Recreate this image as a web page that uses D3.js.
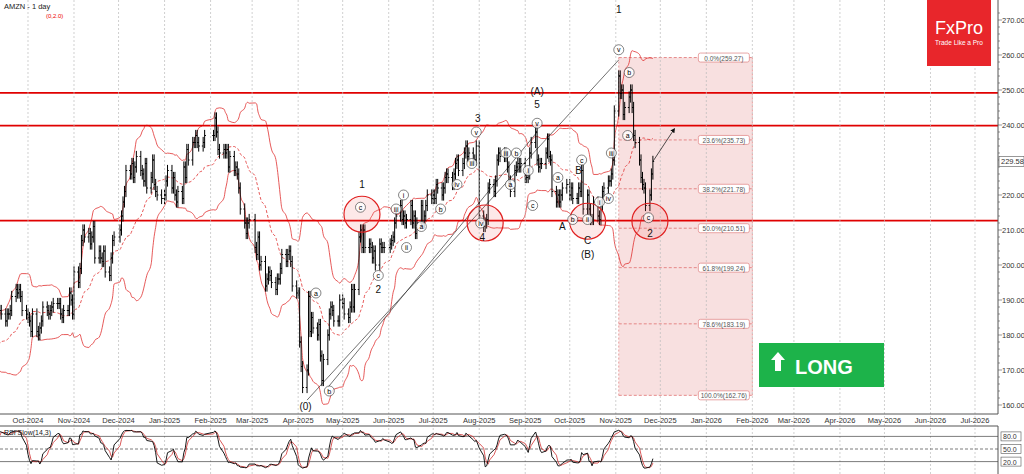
<!DOCTYPE html><html><head><meta charset="utf-8"><script src="https://cdn.jsdelivr.net/npm/d3@7"></script>
<style>body{margin:0;background:#fff}text{font-family:Arial,"Liberation Sans",sans-serif}</style></head><body><svg id="c" width="1024" height="474"></svg><script>
const months=["2024-08-15","2024-09-02","2024-09-12","2024-10-01","2024-11-01","2024-12-01","2025-01-01","2025-02-01","2025-03-01","2025-04-01","2025-05-01","2025-06-01","2025-07-01","2025-08-01","2025-09-01","2025-10-01","2025-11-01"];
const closes=[
[177,177,178,180,178,177,176,176,175,176,178,175],
[176,178,176,170,172,179,183,186],
[187,186,184,186,186,187,191,193,192,193,191,187,186],
[185,184,181,186,181,180,182,184,188,187,186,187,188,189,189,189,186,185,187,187,192,190,186],
[198,195,199,207,210,208,209,206,208,211,202,204,202,201,204,198,197,202,207,208],
[210,214,218,221,227,226,229,225,228,231,227,226,224,229,222,225,230,223,221,220,219],
[220,224,227,222,225,220,218,221,219,228,225,233,230,235,235,237,235,234,235,237],
[237,242,238,233,232,233,232,233,228,231,227,228,226,222,216,212,209,212,213],
[205,203,208,200,201,194,196,198,197,195,193,196,196,199,203,201,203,204,201,194,192],
[192,178,171,165,170,191,181,185,182,180,183,174,167,173,180,186,188,187,184,184,190],
[189,186,185,188,193,188,193,208,210,205,210,205,206,205,202,204,200,206,205,205,205],
[206,207,208,212,214,217,213,214,212,213,217,212,214,209,212,217,212,214,217,220,219],
[220,219,223,222,220,222,225,226,225,223,226,229,230,227,229,232,234,231,232,230,230,234],
[214,211,212,213,222,223,221,224,230,232,231,232,231,228,224,221,227,228,229,228,229],
[225,225,226,232,235,238,230,228,229,229,232,236,231,230,221,218,220,218,220,222,223],
[220,222,219,219,222,221,227,216,220,216,213,213,218,214,213,217,221,222,224,224,226,230,244],
[254,249,250,243,245,248,250,245,237,235,230,225,223,222,217,220,226,229.6]];
const priceTicks=[160,170,180,190,200,210,220,230,240,250,260,270];
const hLevels=[249.2,239.8,212.7];
const fibLabels=["0.0%","23.6%","38.2%","50.0%","61.8%","78.6%","100.0%"];
const fibValues=[259.27,235.73,221.78,210.51,199.24,183.19,162.76];
const monthLabels=["Oct-2024","Nov-2024","Dec-2024","Jan-2025","Feb-2025","Mar-2025","Apr-2025","May-2025","Jun-2025","Jul-2025","Aug-2025","Sep-2025","Oct-2025","Nov-2025","Dec-2025","Jan-2026","Feb-2026","Mar-2026","Apr-2026","May-2026","Jun-2026","Jul-2026"];
const bars=[];
months.forEach((m,i)=>{let d=new Date(m+"T00:00:00");const arr=closes[i];let k=0;
 while(k<arr.length){const wd=d.getDay();if(wd!==0&&wd!==6){bars.push({date:new Date(d),c:arr[k]});k++;}d.setDate(d.getDate()+1);}});
bars.forEach((b,i)=>{b.o=i?bars[i-1].c:b.c;b.h=Math.max(b.o,b.c)+1.6;b.l=Math.min(b.o,b.c)-1.6;});
const svg=d3.select("#c");
const x=d3.scaleTime().domain([new Date("2024-10-01"),new Date("2026-07-01")]).range([28,975]);
const y=d3.scaleLinear().domain([160,270]).range([405,20]);
const L=0,R=998,T=0,B=414;
const defs=svg.append("defs");
defs.append("clipPath").attr("id","cp").append("rect").attr("x",L).attr("y",T).attr("width",R-L).attr("height",B-T);
const g=svg.append("g").attr("clip-path","url(#cp)");
monthLabels.forEach(m=>{const d=d3.timeParse("%b-%Y")(m);const xx=x(d);
 svg.append("line").attr("x1",xx).attr("x2",xx).attr("y1",0).attr("y2",474).attr("stroke","#bbb").attr("stroke-dasharray","2,2").attr("stroke-width",0.7);
 svg.append("text").attr("x",xx).attr("y",423).attr("text-anchor","middle").attr("font-size",7.5).attr("fill","#333").text(m);});
const fx0=x(new Date("2025-11-03")),fx1=x(new Date("2026-02-01"));
g.append("rect").attr("x",fx0).attr("y",y(fibValues[0])).attr("width",fx1-fx0).attr("height",y(fibValues[6])-y(fibValues[0])).attr("fill","#f4d0d0").attr("opacity",0.65);
[fx0,fx1].forEach(v=>g.append("line").attr("x1",v).attr("x2",v).attr("y1",y(fibValues[0])).attr("y2",y(fibValues[6])).attr("stroke","#e8a0a0").attr("stroke-dasharray","2,2"));
fibValues.forEach((v,i)=>{g.append("line").attr("x1",fx0).attr("x2",fx1).attr("y1",y(v)).attr("y2",y(v)).attr("stroke","#e07070").attr("stroke-dasharray","3,2").attr("stroke-width",0.8);
 const t=fibLabels[i]+"("+v.toFixed(2)+")";const tx=fx1-4;
 g.append("rect").attr("x",tx-50).attr("y",y(v)-4.5).attr("width",51).attr("height",9).attr("rx",2).attr("fill","#fff").attr("stroke","#e08080").attr("stroke-width",0.7);
 g.append("text").attr("x",tx-24.5).attr("y",y(v)+3).attr("text-anchor","middle").attr("font-size",6.5).attr("fill","#555").text(t);});
const n=20,bb=[];
bars.forEach((b,i)=>{if(i<n-1)return;const s=bars.slice(i-n+1,i+1).map(d=>d.c);const m=d3.mean(s),sd=d3.deviation(s)*Math.sqrt((n-1)/n);bb.push({date:b.date,m,u:m+2*sd,l:m-2*sd});});
["u","l","m"].forEach(k=>g.append("path").datum(bb).attr("d",d3.line().x(d=>x(d.date)).y(d=>y(d[k])).curve(d3.curveMonotoneX)).attr("fill","none").attr("stroke","#e03030").attr("stroke-width",0.8).attr("stroke-dasharray",k==="m"?"3,2":null));
hLevels.forEach(v=>g.append("line").attr("x1",L).attr("x2",R).attr("y1",y(v)).attr("y2",y(v)).attr("stroke","#e00000").attr("stroke-width",1.8));
const tl=[[["2025-04-07",161.4],["2025-11-03",258.6]],[["2025-04-21",165],["2025-09-09",238]]];
tl.forEach(p=>g.append("line").attr("x1",x(new Date(p[0][0]))).attr("y1",y(p[0][1])).attr("x2",x(new Date(p[1][0]))).attr("y2",y(p[1][1])).attr("stroke","#333").attr("stroke-width",0.7));
const vis=bars.filter(b=>b.date>=new Date("2024-09-12"));
vis.forEach(b=>{const xx=x(b.date);
 g.append("line").attr("x1",xx).attr("x2",xx).attr("y1",y(b.h)).attr("y2",y(b.l)).attr("stroke","#000").attr("stroke-width",1);
 g.append("line").attr("x1",xx-1.3).attr("x2",xx).attr("y1",y(b.o)).attr("y2",y(b.o)).attr("stroke","#000");
 g.append("line").attr("x1",xx).attr("x2",xx+1.3).attr("y1",y(b.c)).attr("y2",y(b.c)).attr("stroke","#000");});
const circles=[["2025-05-14",214.5],["2025-08-05",212],["2025-10-13",212.5],["2025-11-24",212.5]];
circles.forEach(c=>g.append("circle").attr("cx",x(new Date(c[0]))).attr("cy",y(c[1])).attr("r",18).attr("fill","rgba(240,100,100,0.15)").attr("stroke","#e02020").attr("stroke-width",1.2));
const waves=[["1","2025-05-14",222],["2","2025-05-25",192],["3","2025-07-31",241],["4","2025-08-03",207],["5","2025-09-09",245],["(A)","2025-09-09",248.5],["B","2025-10-07",226],["A","2025-09-26",210],["C","2025-10-13",206],["(B)","2025-10-13",202],["1","2025-11-03",272],["2","2025-11-24",208],["(0)","2025-04-06",158.5]];
waves.forEach(w=>svg.append("text").attr("x",x(new Date(w[1]))).attr("y",y(w[2])).attr("text-anchor","middle").attr("font-size",10).attr("fill","#111").text(w[0]));
const sm=[["c","2025-05-13",216.5],["c","2025-05-25",197],["a","2025-04-13",192],["b","2025-04-22",164],["v","2025-11-03",261.5],["b","2025-11-10",255],["a","2025-11-09",237],["iii","2025-10-29",232],["iv","2025-10-27",219],["c","2025-11-23",213.5],["v","2025-07-30",238],["iv","2025-08-02",212],["v","2025-09-09",240.5],["b","2025-08-26",232],["a","2025-09-23",225],["c","2025-09-06",217],["iii","2025-08-19",232],["ii","2025-06-13",205],["iii","2025-06-06",216],["i","2025-06-11",220],["b","2025-07-06",216],["a","2025-06-23",211],["iii","2025-07-27",229],["iv","2025-07-17",223],["a","2025-08-22",223],["i","2025-09-03",227],["b","2025-10-03",213],["ii","2025-10-13",213],["i","2025-10-21",218],["c","2025-10-09",230]];
sm.forEach(s=>{const xx=x(new Date(s[1])),yy=y(s[2]);svg.append("circle").attr("cx",xx).attr("cy",yy).attr("r",5).attr("fill","#fff").attr("fill-opacity",0.8).attr("stroke","#333").attr("stroke-width",0.6);
 svg.append("text").attr("x",xx).attr("y",yy+2.5).attr("text-anchor","middle").attr("font-size",7).attr("font-family","serif").text(s[0]);});
defs.append("marker").attr("id","ar").attr("viewBox","0 0 10 10").attr("refX",5).attr("refY",5).attr("markerWidth",6).attr("markerHeight",6).attr("orient","auto").append("path").attr("d","M0,0L10,5L0,10z").attr("fill","#111");
svg.append("line").attr("x1",x(new Date("2025-11-26"))).attr("y1",y(229.6)).attr("x2",x(new Date("2025-12-10"))).attr("y2",y(238.6)).attr("stroke","#222").attr("stroke-width",0.8).attr("marker-end","url(#ar)");
svg.append("line").attr("x1",R).attr("x2",R).attr("y1",0).attr("y2",B).attr("stroke","#555");
svg.append("line").attr("x1",0).attr("x2",R).attr("y1",B).attr("y2",B).attr("stroke","#555");
for(let v=160;v<=272;v+=2)svg.append("line").attr("x1",R).attr("x2",R+(v%10?2:4)).attr("y1",y(v)).attr("y2",y(v)).attr("stroke","#555").attr("stroke-width",0.6);
priceTicks.forEach(v=>svg.append("text").attr("x",R+4).attr("y",y(v)+3).attr("font-size",7.5).attr("fill","#333").text(v.toFixed(2)));
svg.append("rect").attr("x",R+1).attr("y",y(229.58)-5).attr("width",25).attr("height",10).attr("fill","#fff").attr("stroke","#555").attr("stroke-width",0.6);
svg.append("text").attr("x",R+3).attr("y",y(229.58)+3).attr("font-size",7.5).attr("fill","#333").text("229.58");
svg.append("text").attr("x",4).attr("y",9).attr("font-size",7.5).attr("fill","#222").text("AMZN - 1 day");
svg.append("text").attr("x",46).attr("y",18).attr("font-size",6).attr("fill","#e00").text("(0,2.0)");
svg.append("rect").attr("x",927).attr("y",0).attr("width",64).attr("height",66).attr("fill","#e8262b");
svg.append("text").attr("x",959).attr("y",34).attr("text-anchor","middle").attr("font-size",18).attr("font-family","'Liberation Serif',serif").attr("fill","#fff").text("FxPro");
svg.append("text").attr("x",959).attr("y",45).attr("text-anchor","middle").attr("font-size",6.5).attr("fill","#fff").text("Trade Like a Pro");
svg.append("rect").attr("x",759).attr("y",343).attr("width",125).attr("height",44).attr("fill","#1db34a");
svg.append("path").attr("d","M775,357 l7,-8 l7,8 h-4 v11 h-6 v-11z").attr("fill","#fff").attr("transform","translate(-4,3)");
svg.append("text").attr("x",795).attr("y",374).attr("font-size",20).attr("font-weight","bold").attr("fill","#fff").text("LONG");
const pT=426,pB=472;const ys=d3.scaleLinear().domain([0,100]).range([pB-2,pT+2]);
svg.append("line").attr("x1",0).attr("x2",R).attr("y1",pT).attr("y2",pT).attr("stroke","#555");
svg.append("line").attr("x1",R).attr("x2",R).attr("y1",pT).attr("y2",474).attr("stroke","#555");
[80,50,20].forEach(v=>{svg.append("line").attr("x1",0).attr("x2",R).attr("y1",ys(v)).attr("y2",ys(v)).attr("stroke","#444").attr("stroke-width",0.7).attr("stroke-dasharray",v===50?"3,2":null);
 svg.append("rect").attr("x",R+3).attr("y",ys(v)-4.5).attr("width",20).attr("height",9).attr("fill","#fff").attr("stroke","#555").attr("stroke-width",0.6);
 svg.append("text").attr("x",R+5).attr("y",ys(v)+3).attr("font-size",7).attr("fill","#333").text(v.toFixed(1));});
const raw=bars.map((b,i)=>{if(i<13)return null;const s=bars.slice(i-13,i+1);const hh=d3.max(s,d=>d.h),ll=d3.min(s,d=>d.l);return (b.c-ll)/(hh-ll)*100;});
const sma=(a,k)=>a.map((v,i)=>{const s=a.slice(Math.max(0,i-k+1),i+1);return s.length<k||s.some(z=>z==null)?null:d3.mean(s);});
const K=sma(raw,3),D=sma(K,3);
defs.append("clipPath").attr("id","cp2").append("rect").attr("x",0).attr("y",pT).attr("width",R).attr("height",pB-pT+2);
const sg=svg.append("g").attr("clip-path","url(#cp2)");
const ln=arr=>d3.line().defined((d,i)=>arr[i]!=null&&bars[i].date>=new Date("2024-09-12")).x((d,i)=>x(bars[i].date)).y((d,i)=>ys(arr[i]))(bars);
sg.append("path").attr("d",ln(D)).attr("fill","none").attr("stroke","#d03030").attr("stroke-width",0.8);
sg.append("path").attr("d",ln(K)).attr("fill","none").attr("stroke","#000").attr("stroke-width",0.9);
svg.append("text").attr("x",4).attr("y",435).attr("font-size",7).attr("fill","#222").text("RSI Slow(14,3)");
</script></body></html>
